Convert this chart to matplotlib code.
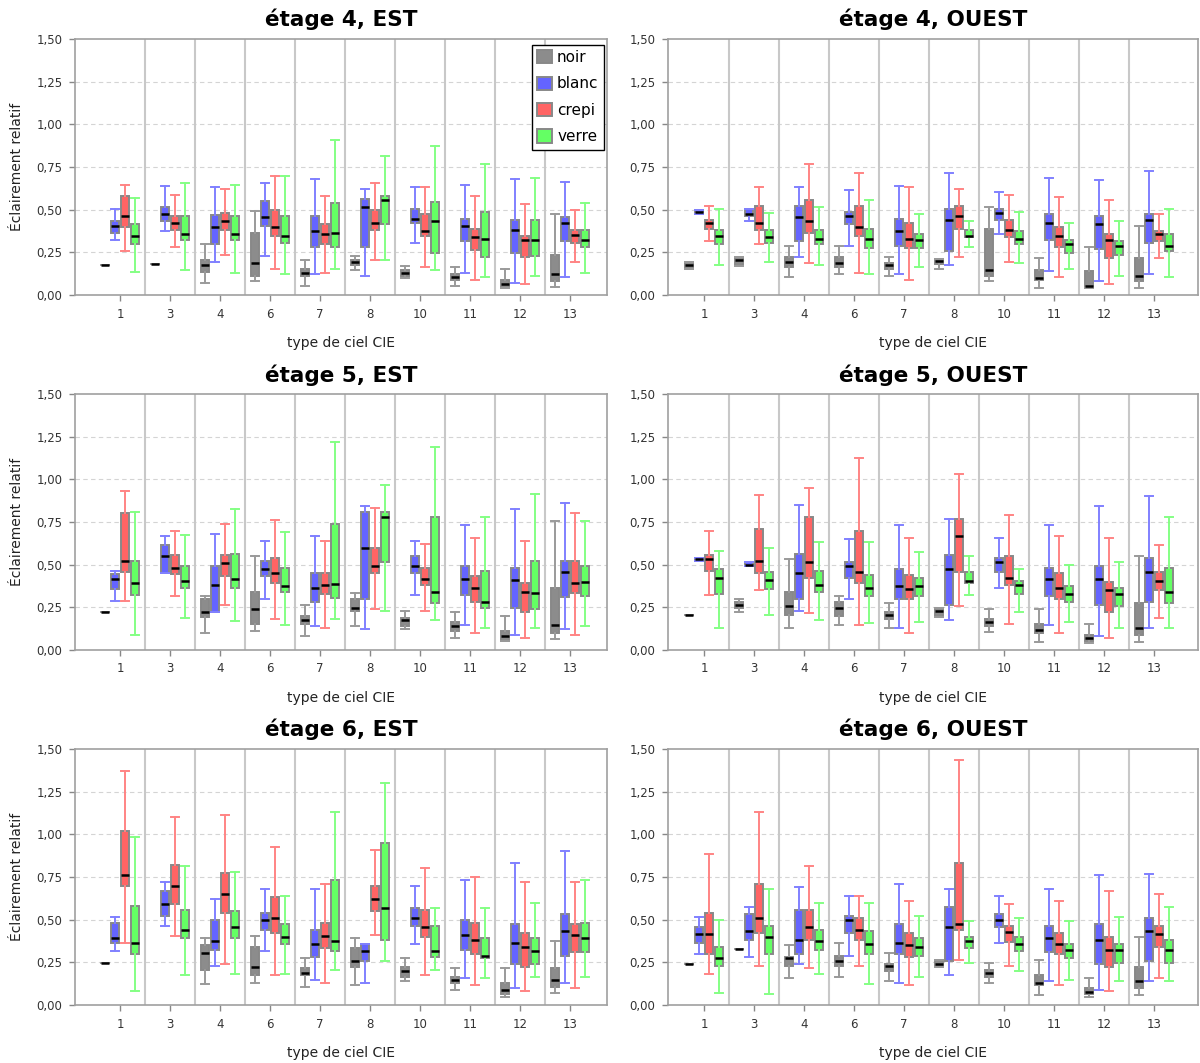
import matplotlib
matplotlib.use('Agg')
import matplotlib.pyplot as plt
from matplotlib.patches import Patch

# Sky types (CIE) on the x axis
SKY_TYPES = ['1', '3', '4', '6', '7', '8', '10', '11', '12', '13']
MATERIALS = ['noir', 'blanc', 'crepi', 'verre']

# Each entry: (whisker low, q1, median, q3, whisker high), None when absent

# étage 4, EST
E4_EST_NOIR = [(0.173, 0.173, 0.173, 0.173, 0.173), (0.18, 0.18, 0.18, 0.18, 0.18),
               (0.073, 0.137, 0.173, 0.208, 0.296), (0.080, 0.112, 0.188, 0.365, 0.490),
               (0.055, 0.114, 0.131, 0.155, 0.204), (0.147, 0.176, 0.192, 0.204, 0.229),
               (0.098, 0.114, 0.129, 0.147, 0.171), (0.055, 0.088, 0.106, 0.122, 0.163),
               (0.039, 0.039, 0.065, 0.088, 0.155), (0.047, 0.080, 0.122, 0.237, 0.473)]
E4_EST_BLANC = [(0.322, 0.361, 0.404, 0.431, 0.506), (0.373, 0.431, 0.473, 0.514, 0.639),
                (0.196, 0.296, 0.398, 0.471, 0.631), (0.229, 0.404, 0.457, 0.549, 0.657),
                (0.122, 0.280, 0.373, 0.463, 0.680), (0.114, 0.280, 0.514, 0.565, 0.622),
                (0.306, 0.422, 0.447, 0.506, 0.631), (0.129, 0.314, 0.406, 0.447, 0.647),
                (0.073, 0.245, 0.380, 0.439, 0.680), (0.106, 0.314, 0.424, 0.457, 0.665)]
E4_EST_CREPI = [(0.255, 0.396, 0.465, 0.580, 0.647), (0.280, 0.380, 0.424, 0.463, 0.588),
                (0.237, 0.380, 0.431, 0.480, 0.622), (0.155, 0.347, 0.398, 0.498, 0.698),
                (0.129, 0.296, 0.357, 0.414, 0.580), (0.204, 0.380, 0.424, 0.498, 0.657),
                (0.163, 0.347, 0.373, 0.473, 0.631), (0.088, 0.263, 0.339, 0.388, 0.580),
                (0.065, 0.222, 0.322, 0.347, 0.531), (0.196, 0.306, 0.349, 0.380, 0.498)]
E4_EST_VERRE = [(0.137, 0.296, 0.347, 0.414, 0.571), (0.147, 0.322, 0.357, 0.463, 0.655),
                (0.129, 0.322, 0.355, 0.463, 0.647), (0.122, 0.306, 0.347, 0.463, 0.698),
                (0.155, 0.280, 0.365, 0.539, 0.906), (0.204, 0.414, 0.557, 0.580, 0.814),
                (0.147, 0.245, 0.431, 0.547, 0.873), (0.106, 0.222, 0.331, 0.488, 0.765),
                (0.114, 0.229, 0.322, 0.439, 0.688), (0.129, 0.280, 0.322, 0.380, 0.539)]

# étage 4, OUEST
E4_OUEST_NOIR = [(0.155, 0.155, 0.178, 0.196, 0.196), (0.171, 0.171, 0.204, 0.222, 0.222),
                 (0.106, 0.163, 0.196, 0.222, 0.288), (0.122, 0.163, 0.188, 0.222, 0.288),
                 (0.114, 0.155, 0.173, 0.188, 0.222), (0.155, 0.184, 0.198, 0.212, 0.212),
                 (0.080, 0.112, 0.147, 0.388, 0.514), (0.039, 0.088, 0.098, 0.147, 0.214),
                 (0.039, 0.039, 0.055, 0.139, 0.280), (0.039, 0.080, 0.114, 0.214, 0.406)]
E4_OUEST_BLANC = [(0.473, 0.473, 0.484, 0.498, 0.498), (0.431, 0.465, 0.473, 0.506, 0.506),
                  (0.222, 0.314, 0.457, 0.522, 0.631), (0.288, 0.414, 0.465, 0.488, 0.614),
                  (0.122, 0.288, 0.373, 0.447, 0.639), (0.173, 0.255, 0.439, 0.506, 0.716),
                  (0.355, 0.439, 0.480, 0.506, 0.606), (0.139, 0.322, 0.424, 0.473, 0.688),
                  (0.080, 0.271, 0.414, 0.465, 0.673), (0.122, 0.304, 0.439, 0.473, 0.724)]
E4_OUEST_CREPI = [(0.314, 0.388, 0.422, 0.439, 0.522), (0.296, 0.380, 0.424, 0.522, 0.631),
                  (0.188, 0.365, 0.431, 0.557, 0.765), (0.129, 0.347, 0.398, 0.522, 0.714),
                  (0.088, 0.273, 0.331, 0.422, 0.631), (0.222, 0.388, 0.465, 0.524, 0.622),
                  (0.196, 0.339, 0.380, 0.439, 0.588), (0.106, 0.280, 0.347, 0.396, 0.573),
                  (0.065, 0.214, 0.322, 0.355, 0.557), (0.214, 0.314, 0.355, 0.373, 0.473)]
E4_OUEST_VERRE = [(0.173, 0.296, 0.347, 0.380, 0.506), (0.196, 0.306, 0.339, 0.380, 0.480),
                  (0.173, 0.296, 0.331, 0.380, 0.514), (0.122, 0.273, 0.331, 0.388, 0.557),
                  (0.163, 0.273, 0.324, 0.355, 0.473), (0.280, 0.339, 0.345, 0.380, 0.431),
                  (0.188, 0.296, 0.331, 0.373, 0.488), (0.155, 0.247, 0.298, 0.322, 0.422),
                  (0.114, 0.237, 0.288, 0.314, 0.431), (0.106, 0.255, 0.288, 0.355, 0.506)]

# étage 5, EST
E5_EST_NOIR = [(0.225, 0.225, 0.225, 0.225, 0.225), None,
               (0.098, 0.196, 0.225, 0.298, 0.314), (0.114, 0.155, 0.239, 0.339, 0.549),
               (0.080, 0.155, 0.175, 0.198, 0.265), (0.139, 0.231, 0.249, 0.298, 0.333),
               (0.124, 0.139, 0.173, 0.190, 0.231), (0.073, 0.114, 0.139, 0.165, 0.224),
               (0.055, 0.055, 0.080, 0.114, 0.198), (0.065, 0.098, 0.149, 0.365, 0.757)]
E5_EST_BLANC = [(0.288, 0.355, 0.416, 0.447, 0.465), (0.451, 0.451, 0.549, 0.616, 0.667),
                (0.224, 0.224, 0.382, 0.490, 0.682), (0.298, 0.431, 0.475, 0.524, 0.639),
                (0.139, 0.280, 0.365, 0.449, 0.667), (0.124, 0.298, 0.600, 0.808, 0.841),
                (0.324, 0.449, 0.492, 0.549, 0.639), (0.147, 0.324, 0.416, 0.492, 0.733),
                (0.088, 0.249, 0.408, 0.482, 0.825), (0.124, 0.308, 0.457, 0.524, 0.859)]
E5_EST_CREPI = [(0.288, 0.455, 0.524, 0.800, 0.933), (0.314, 0.447, 0.482, 0.557, 0.698),
                (0.265, 0.431, 0.508, 0.557, 0.741), (0.180, 0.390, 0.449, 0.539, 0.759),
                (0.131, 0.329, 0.382, 0.449, 0.639), (0.239, 0.449, 0.492, 0.600, 0.833),
                (0.231, 0.382, 0.416, 0.482, 0.624), (0.098, 0.282, 0.365, 0.431, 0.657),
                (0.073, 0.224, 0.341, 0.390, 0.641), (0.090, 0.333, 0.390, 0.524, 0.800)]
E5_EST_VERRE = [(0.088, 0.322, 0.390, 0.524, 0.806), (0.188, 0.365, 0.406, 0.490, 0.673),
                (0.167, 0.365, 0.416, 0.565, 0.825), (0.147, 0.339, 0.373, 0.482, 0.690),
                (0.180, 0.306, 0.384, 0.741, 1.216), (0.231, 0.516, 0.782, 0.808, 0.967),
                (0.173, 0.275, 0.341, 0.782, 1.192), (0.131, 0.249, 0.282, 0.465, 0.782),
                (0.131, 0.239, 0.333, 0.524, 0.916), (0.139, 0.316, 0.400, 0.490, 0.757)]

# étage 5, OUEST
E5_OUEST_NOIR = [(0.206, 0.206, 0.206, 0.206, 0.206), (0.224, 0.247, 0.265, 0.280, 0.298),
                 (0.131, 0.206, 0.257, 0.341, 0.531), (0.147, 0.198, 0.247, 0.280, 0.314),
                 (0.131, 0.180, 0.206, 0.224, 0.273), (0.196, 0.196, 0.231, 0.247, 0.247),
                 (0.106, 0.139, 0.163, 0.180, 0.239), (0.049, 0.098, 0.118, 0.155, 0.239),
                 (0.039, 0.055, 0.071, 0.088, 0.155), (0.047, 0.088, 0.131, 0.273, 0.549)]
E5_OUEST_BLANC = [(0.524, 0.524, 0.531, 0.539, 0.539), (0.490, 0.490, 0.500, 0.516, 0.516),
                  (0.231, 0.298, 0.449, 0.565, 0.849), (0.298, 0.424, 0.490, 0.516, 0.649),
                  (0.131, 0.298, 0.375, 0.475, 0.733), (0.173, 0.265, 0.473, 0.557, 0.767),
                  (0.365, 0.457, 0.516, 0.541, 0.657), (0.147, 0.314, 0.416, 0.482, 0.733),
                  (0.080, 0.265, 0.416, 0.490, 0.841), (0.131, 0.282, 0.457, 0.541, 0.900)]
E5_OUEST_CREPI = [(0.324, 0.465, 0.531, 0.559, 0.698), (0.349, 0.449, 0.524, 0.708, 0.908),
                  (0.214, 0.424, 0.516, 0.782, 0.949), (0.147, 0.390, 0.457, 0.700, 1.125),
                  (0.098, 0.298, 0.357, 0.441, 0.657), (0.255, 0.457, 0.667, 0.767, 1.033),
                  (0.155, 0.380, 0.424, 0.549, 0.790), (0.098, 0.298, 0.365, 0.449, 0.667),
                  (0.073, 0.224, 0.349, 0.398, 0.657), (0.188, 0.349, 0.406, 0.457, 0.616)]
E5_OUEST_VERRE = [(0.131, 0.331, 0.424, 0.475, 0.580), (0.206, 0.357, 0.408, 0.457, 0.598),
                  (0.173, 0.339, 0.382, 0.465, 0.631), (0.157, 0.314, 0.365, 0.441, 0.631),
                  (0.165, 0.314, 0.375, 0.424, 0.573), (0.324, 0.390, 0.406, 0.457, 0.549),
                  (0.224, 0.331, 0.382, 0.406, 0.473), (0.165, 0.280, 0.331, 0.373, 0.498),
                  (0.131, 0.255, 0.331, 0.365, 0.516), (0.131, 0.273, 0.339, 0.482, 0.782)]

# étage 6, EST
E6_EST_NOIR = [(0.249, 0.249, 0.249, 0.249, 0.249), None,
               (0.124, 0.206, 0.306, 0.349, 0.390), (0.131, 0.173, 0.224, 0.339, 0.406),
               (0.106, 0.173, 0.190, 0.216, 0.275), (0.116, 0.224, 0.257, 0.333, 0.390),
               (0.141, 0.165, 0.198, 0.224, 0.275), (0.090, 0.131, 0.149, 0.165, 0.216),
               (0.049, 0.065, 0.090, 0.131, 0.216), (0.073, 0.106, 0.149, 0.216, 0.375)]
E6_EST_BLANC = [(0.316, 0.365, 0.390, 0.482, 0.516), (0.465, 0.524, 0.592, 0.667, 0.718),
                (0.231, 0.324, 0.375, 0.500, 0.624), (0.316, 0.441, 0.500, 0.541, 0.682),
                (0.149, 0.282, 0.357, 0.441, 0.682), (0.131, 0.257, 0.316, 0.357, 0.357),
                (0.357, 0.465, 0.508, 0.567, 0.700), (0.157, 0.324, 0.408, 0.500, 0.733),
                (0.098, 0.239, 0.365, 0.475, 0.833), (0.131, 0.290, 0.433, 0.533, 0.900)]
E6_EST_CREPI = [(0.365, 0.698, 0.759, 1.018, 1.369), (0.406, 0.590, 0.700, 0.818, 1.102),
                (0.239, 0.541, 0.649, 0.775, 1.116), (0.173, 0.424, 0.508, 0.631, 0.925),
                (0.131, 0.333, 0.406, 0.482, 0.708), (0.408, 0.549, 0.624, 0.700, 0.908),
                (0.175, 0.398, 0.457, 0.557, 0.800), (0.116, 0.298, 0.382, 0.482, 0.749),
                (0.082, 0.224, 0.341, 0.424, 0.718), (0.098, 0.308, 0.408, 0.475, 0.718)]
E6_EST_VERRE = [(0.082, 0.298, 0.365, 0.582, 0.982), (0.175, 0.390, 0.441, 0.559, 0.816),
                (0.180, 0.390, 0.457, 0.549, 0.782), (0.180, 0.355, 0.398, 0.473, 0.639),
                (0.208, 0.316, 0.375, 0.733, 1.133), (0.257, 0.382, 0.567, 0.949, 1.300),
                (0.208, 0.282, 0.316, 0.465, 0.567), (0.157, 0.275, 0.290, 0.390, 0.567),
                (0.165, 0.239, 0.316, 0.390, 0.600), (0.165, 0.308, 0.390, 0.482, 0.733)]

# étage 6, OUEST
E6_OUEST_NOIR = [(0.239, 0.239, 0.239, 0.239, 0.239), (0.331, 0.331, 0.331, 0.331, 0.331),
                 (0.157, 0.231, 0.275, 0.282, 0.349), (0.165, 0.231, 0.257, 0.290, 0.365),
                 (0.139, 0.198, 0.231, 0.239, 0.306), (0.224, 0.224, 0.241, 0.265, 0.265),
                 (0.131, 0.165, 0.190, 0.208, 0.249), (0.057, 0.116, 0.131, 0.173, 0.265),
                 (0.049, 0.065, 0.078, 0.098, 0.157), (0.057, 0.098, 0.141, 0.224, 0.398)]
E6_OUEST_BLANC = [(0.298, 0.365, 0.416, 0.457, 0.516), (0.282, 0.382, 0.431, 0.531, 0.575),
                  (0.239, 0.298, 0.382, 0.557, 0.690), (0.290, 0.424, 0.500, 0.524, 0.641),
                  (0.131, 0.298, 0.365, 0.473, 0.708), (0.175, 0.257, 0.457, 0.575, 0.682),
                  (0.365, 0.457, 0.500, 0.533, 0.641), (0.139, 0.308, 0.390, 0.465, 0.682),
                  (0.090, 0.239, 0.382, 0.475, 0.759), (0.141, 0.257, 0.433, 0.508, 0.767)]
E6_OUEST_CREPI = [(0.180, 0.298, 0.416, 0.541, 0.884), (0.231, 0.424, 0.508, 0.708, 1.133),
                  (0.216, 0.382, 0.457, 0.557, 0.816), (0.231, 0.382, 0.441, 0.508, 0.641),
                  (0.116, 0.282, 0.349, 0.424, 0.608), (0.265, 0.441, 0.475, 0.833, 1.435),
                  (0.231, 0.367, 0.425, 0.465, 0.590), (0.116, 0.298, 0.357, 0.424, 0.608),
                  (0.082, 0.224, 0.325, 0.398, 0.667), (0.157, 0.339, 0.416, 0.465, 0.649)]
E6_OUEST_VERRE = [(0.073, 0.231, 0.275, 0.339, 0.500), (0.065, 0.298, 0.398, 0.465, 0.682),
                  (0.180, 0.324, 0.375, 0.441, 0.600), (0.124, 0.298, 0.357, 0.431, 0.600),
                  (0.165, 0.290, 0.341, 0.390, 0.524), (0.249, 0.333, 0.375, 0.398, 0.490),
                  (0.198, 0.316, 0.357, 0.398, 0.508), (0.149, 0.275, 0.325, 0.357, 0.490),
                  (0.141, 0.249, 0.325, 0.357, 0.516), (0.141, 0.249, 0.325, 0.382, 0.575)]

PANELS = [
    ('étage 4, EST', [E4_EST_NOIR, E4_EST_BLANC, E4_EST_CREPI, E4_EST_VERRE]),
    ('étage 4, OUEST', [E4_OUEST_NOIR, E4_OUEST_BLANC, E4_OUEST_CREPI, E4_OUEST_VERRE]),
    ('étage 5, EST', [E5_EST_NOIR, E5_EST_BLANC, E5_EST_CREPI, E5_EST_VERRE]),
    ('étage 5, OUEST', [E5_OUEST_NOIR, E5_OUEST_BLANC, E5_OUEST_CREPI, E5_OUEST_VERRE]),
    ('étage 6, EST', [E6_EST_NOIR, E6_EST_BLANC, E6_EST_CREPI, E6_EST_VERRE]),
    ('étage 6, OUEST', [E6_OUEST_NOIR, E6_OUEST_BLANC, E6_OUEST_CREPI, E6_OUEST_VERRE]),
]

# Styling
FILL_COLORS = ['#8c8c8c', '#6464ff', '#ff6464', '#64ff64']
WHISKER_COLORS = ['#9a9a9a', '#8080ff', '#ff8484', '#84ff84']
OFFSETS = [-0.3, -0.1, 0.1, 0.3]
BOX_W = 0.16

W, H = 1200, 1063
COL_LEFT = [75, 668]
COL_WIDTH = [532, 530]
COL_XLIM = [(-0.9, -0.9 + 532 / 50), (-0.72, -0.72 + 530 / 50)]
ROW_TOP = [39, 394, 749]
ROW_H = 256

fig = plt.figure(figsize=(W / 100, H / 100), dpi=100)
fig.patch.set_facecolor('white')


def draw_panel(ax, title, series, show_ylabel, show_legend, xlim):
    for s_idx, data in enumerate(series):
        stats, pos = [], []
        for g_idx, v in enumerate(data):
            if v is None:
                continue
            lo, q1, med, q3, hi = v
            stats.append(dict(whislo=lo, q1=q1, med=med, q3=q3, whishi=hi, fliers=[]))
            pos.append(g_idx + OFFSETS[s_idx])
        ax.bxp(stats, positions=pos, widths=BOX_W, capwidths=BOX_W,
               patch_artist=True, showfliers=False, manage_ticks=False,
               boxprops=dict(facecolor=FILL_COLORS[s_idx], edgecolor='#888888', linewidth=1.4),
               whiskerprops=dict(color=WHISKER_COLORS[s_idx], linewidth=1.4),
               capprops=dict(color=WHISKER_COLORS[s_idx], linewidth=1.4),
               medianprops=dict(color='black', linewidth=1.8, solid_capstyle='butt'))

    # category separators
    for i in range(len(SKY_TYPES) - 1):
        ax.axvline(i + 0.5, color='#c8c8c8', linewidth=1.5, zorder=0.5)
    for yv in [0.25, 0.5, 0.75, 1.0, 1.25]:
        ax.axhline(yv, color='#d4d4d4', linewidth=0.8, linestyle=(0, (4, 3)), zorder=0.4)

    ax.set_xlim(*xlim)
    ax.set_ylim(0, 1.5)
    ax.set_xticks(range(len(SKY_TYPES)))
    ax.set_xticklabels(SKY_TYPES)
    yt = [0, 0.25, 0.5, 0.75, 1.0, 1.25, 1.5]
    ax.set_yticks(yt)
    ax.set_yticklabels([f'{v:.2f}'.replace('.', ',') for v in yt])
    ax.tick_params(axis='both', labelsize=8.5, colors='#888888', labelcolor='#333333',
                   length=4, width=1, pad=5)
    for sp in ax.spines.values():
        sp.set_color('#a0a0a0')
        sp.set_linewidth(1.2)

    ax.set_title(title, fontsize=15.5, fontweight='bold', pad=9)
    ax.set_xlabel('type de ciel CIE', fontsize=10, labelpad=11, color='#222222')
    if show_ylabel:
        ax.set_ylabel('Éclairement relatif', fontsize=10, labelpad=9, color='#222222')

    if show_legend:
        handles = [Patch(facecolor=c, edgecolor='#888888', linewidth=1.4, label=m)
                   for c, m in zip(FILL_COLORS, MATERIALS)]
        leg = ax.legend(handles=handles, loc='upper right', bbox_to_anchor=(1.0, 0.99),
                        fontsize=11, frameon=True, fancybox=False, framealpha=1,
                        edgecolor='black', handlelength=0.95, handleheight=0.95,
                        handletextpad=0.35, labelspacing=0.75, borderpad=0.35,
                        borderaxespad=0.2)
        leg.get_frame().set_linewidth(1.0)


for idx, (title, series) in enumerate(PANELS):
    row, col = divmod(idx, 2)
    left = COL_LEFT[col] / W
    bottom = 1 - (ROW_TOP[row] + ROW_H) / H
    ax = fig.add_axes([left, bottom, COL_WIDTH[col] / W, ROW_H / H])
    draw_panel(ax, title, series, show_ylabel=(col == 0), show_legend=(idx == 0),
               xlim=COL_XLIM[col])

fig.savefig('out.png', dpi=100, facecolor='white')
